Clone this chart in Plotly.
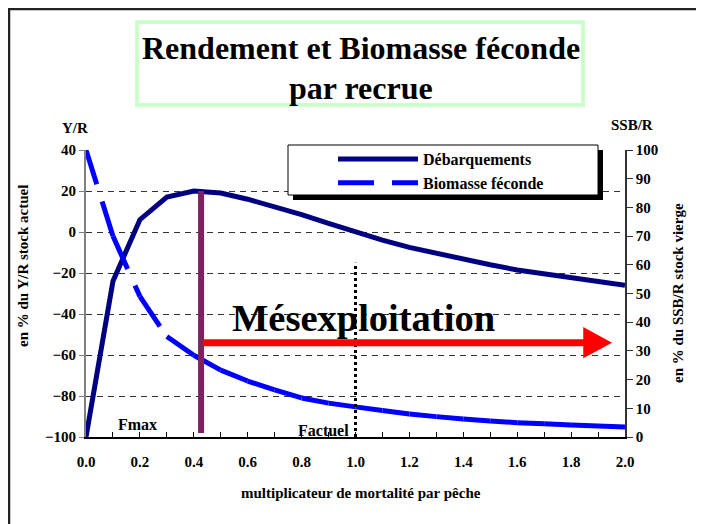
import plotly.graph_objects as go

# multiplicateur de F
f_mult = [0.0, 0.1, 0.2, 0.3, 0.4, 0.5, 0.6, 0.7, 0.8, 0.9, 1.0,
          1.1, 1.2, 1.3, 1.4, 1.5, 1.6, 1.7, 1.8, 1.9, 2.0]
# Y/R en % du stock actuel (axe gauche)
debarquements = [-100, -24, 6, 17, 20, 19, 16, 12.5, 8.5, 4.2, 0,
                 -4, -7.5, -10.5, -13.5, -16, -18.5, -20.5, -22.5, -24.5, -26]
# SSB/R en % du stock vierge (axe droit)
biomasse = [100, 70, 49, 35, 28.5, 23.3, 19.5, 16.4, 13.6, 11.8, 10.5,
            9.2, 8.0, 7.1, 6.3, 5.6, 5.0, 4.6, 4.2, 3.8, 3.5]

f_max = 0.427
f_actuel = 1.0
arrow_y = -54
arrow_end = 1.952

# the page body adds an 8px margin around the figure
OFF = 8
W, H = 704 - OFF, 524 - OFF
L, R, T, B = 86 - OFF, 79, 150 - OFF, 87
PW, PH = W - L - R, H - T - B


def px(x):
    # screen pixel -> paper x
    return (x - OFF - L) / PW


def py(y):
    # screen pixel -> paper y
    return (H - B - (y - OFF)) / PH


serif = "Liberation Serif"
navy = "#000080"
blue = "#0000FF"

fig = go.Figure()

fig.add_trace(go.Scatter(
    x=f_mult, y=debarquements, mode="lines", name="Débarquements",
    line=dict(color=navy, width=5), legendgroup="a", yaxis="y"))

# Excel restarts the dash pattern on each segment
for i in range(len(f_mult) - 1):
    fig.add_trace(go.Scatter(
        x=f_mult[i:i + 2], y=biomasse[i:i + 2], mode="lines",
        name="Biomasse féconde", showlegend=(i == 0), legendgroup="b",
        line=dict(color=blue, width=5, dash="36px,18px"), yaxis="y2"))

shapes = [
    # outer frame
    dict(type="rect", xref="paper", yref="paper", x0=px(9), x1=px(730),
         y0=py(560), y1=py(9), line=dict(color="#222", width=2.5)),
    # title box
    dict(type="rect", xref="paper", yref="paper", x0=px(137), x1=px(583),
         y0=py(105), y1=py(22), line=dict(color="#CCFFCC", width=4)),
    # legend shadow and box
    dict(type="rect", xref="paper", yref="paper", x0=px(293), x1=px(603),
         y0=py(200), y1=py(150), fillcolor="black", line=dict(width=0)),
    dict(type="rect", xref="paper", yref="paper", x0=px(288), x1=px(598),
         y0=py(195), y1=py(145), fillcolor="white",
         line=dict(color="black", width=1)),
    # Fmax
    dict(type="line", xref="x", yref="y", x0=f_max, x1=f_max, y0=-98, y1=20,
         line=dict(color="#7F2060", width=6)),
    # Factuel
    dict(type="line", xref="x", yref="y", x0=f_actuel, x1=f_actuel,
         y0=-100, y1=-15, line=dict(color="black", width=3, dash="dot")),
    # red arrow
    dict(type="line", xref="x", yref="y", x0=0.434, x1=1.86, y0=arrow_y,
         y1=arrow_y, line=dict(color="red", width=7)),
    dict(type="path", xref="x", yref="y",
         path=f"M1.845,{arrow_y + 7.6} L{arrow_end},{arrow_y} L1.845,{arrow_y - 7.6} Z",
         fillcolor="red", line=dict(color="red", width=0)),
]


def label(text, x, y, size, ref="paper", **kw):
    if ref == "paper":
        x, y = px(x), py(y)
        xref = yref = "paper"
    else:
        xref, yref = "x", "y"
    d = dict(text=text, xref=xref, yref=yref, x=x, y=y, showarrow=False,
             xanchor="center", yanchor="middle", font=dict(size=size))
    d.update(kw)
    return d


annotations = [
    label("Rendement et Biomasse féconde", 361, 48, 32),
    label("par recrue", 361, 88, 32),
    label("Y/R", 75, 128, 15),
    label("SSB/R", 632, 125, 15),
    label("en % du Y/R stock actuel", 23, 266, 15, textangle=-90),
    label("en % du SSB/R stock vierge", 678, 293, 15, textangle=-90),
    label("multiplicateur de mortalité par pêche", 361, 493, 15),
    label("Mésexploitation", 1.028, -42, 38.5, ref="data"),
    label("Fmax", 0.19, -94, 16, ref="data"),
    label("Factuel", 0.985, -97, 16, ref="data", xanchor="right"),
]

fig.update_layout(
    width=W, height=H,
    margin=dict(l=L, r=R, t=T, b=B),
    paper_bgcolor="white", plot_bgcolor="white",
    font=dict(family=serif, size=15, color="black", weight="bold"),
    showlegend=True,
    legend=dict(x=px(333), y=py(142), xanchor="left", yanchor="top",
                bgcolor="rgba(0,0,0,0)", borderwidth=0, itemwidth=80,
                tracegroupgap=0, traceorder="grouped",
                font=dict(family=serif, size=16, weight="bold")),
    xaxis=dict(range=[0, 2], dtick=0.2, tickformat=".1f", ticks="inside",
               ticklen=5, tickcolor="black", showline=True,
               linecolor="black", linewidth=1.5, showgrid=False,
               zeroline=False, ticklabelstandoff=10,
               minor=dict(dtick=0.1, ticks="inside", ticklen=5,
                          tickcolor="black")),
    yaxis=dict(range=[-100, 40], dtick=20, ticks="outside", ticklen=5,
               tickcolor="#808080", showline=True, linecolor="#808080",
               linewidth=2, showgrid=True, gridcolor="#333",
               griddash="6px,5px", gridwidth=1, zeroline=False),
    yaxis2=dict(range=[0, 100], dtick=10, overlaying="y", side="right",
                anchor="x", ticks="outside", ticklen=6, tickcolor="#333",
                showline=True, linecolor="#333", linewidth=1.5,
                showgrid=False, zeroline=False),
    yaxis3=dict(range=[0, 100], dtick=10, overlaying="y", side="right",
                anchor="x", ticks="inside", ticklen=6, tickcolor="#333",
                showticklabels=False, showline=False, showgrid=False,
                zeroline=False),
    shapes=shapes,
    annotations=annotations,
)

fig.write_html("out.html")
